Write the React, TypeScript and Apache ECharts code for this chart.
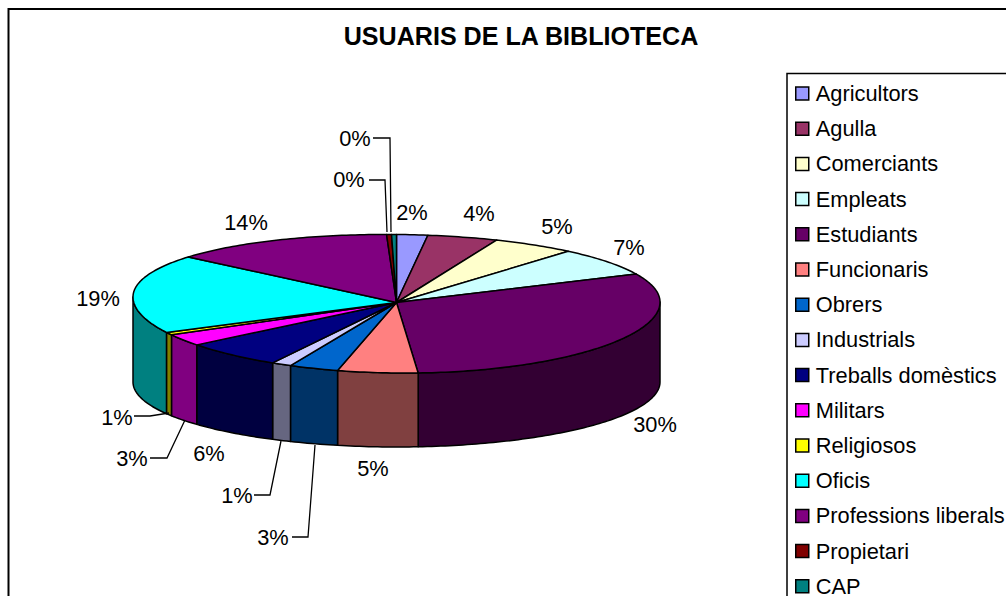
import React, { useEffect, useRef } from "react";
import * as echarts from "echarts";

const titleText = "USUARIS DE LA BIBLIOTECA";
const categories = ["Agricultors", "Agulla", "Comerciants", "Empleats", "Estudiants", "Funcionaris", "Obrers", "Industrials", "Treballs domèstics", "Militars", "Religiosos", "Oficis", "Professions liberals", "Propietari", "CAP"];
const shares = [1.9, 4.3, 5.1, 6.9, 30.49, 4.9, 3.0, 1.2, 5.9, 2.6, 0.6, 18.61, 13.9, 0.3, 0.3];
const topColors = ["#9999FF", "#993366", "#FFFFCC", "#CCFFFF", "#660066", "#FF8080", "#0066CC", "#CCCCFF", "#000080", "#FF00FF", "#FFFF00", "#00FFFF", "#800080", "#800000", "#008080"];
const wallColors = ["#4D4D80", "#4D1A33", "#808066", "#668080", "#330033", "#804040", "#003366", "#666680", "#000040", "#800080", "#808000", "#008080", "#400040", "#400000", "#004040"];

// Hand placement of the percentage labels (centre x, centre y).
const labelCentres: number[][] = [[412, 212], [479, 213], [557, 226], [629, 247], [655, 424], [373, 468], [273, 537], [237, 495], [209, 453], [132, 458], [117, 417], [98, 298], [246, 222], [349, 179], [355, 138]];
// Leader lines, keyed by category index.
const leaders: Record<number, number[][]> = {
  6: [[292, 537], [308, 537], [315, 445]],
  7: [[254, 495], [270, 495], [281, 441]],
  9: [[150, 458], [167, 458], [185, 420]],
  10: [[134, 416], [150, 416], [169, 413]],
  13: [[369, 180], [385, 180], [387, 232]],
  14: [[373, 138], [390, 138], [391, 232]],
};

const FONT = "'Liberation Sans', Arial, sans-serif";
const CX = 396.5, CY = 302.5, RX = 263.5, RY_BACK = 68, RY_FRONT = 70.5;
const BOTTOM_CY = 382, BOTTOM_RY = 65, TILT = 0.0095, SAG = 3;

const topPoint = (t: number) => {
  const x = CX + RX * Math.sin(t);
  const s = -Math.cos(t);
  return [x, CY + s * (s > 0 ? RY_FRONT : RY_BACK) + TILT * (x - CX) - SAG * (1 - s * s)];
};
const bottomPoint = (t: number) => [CX + RX * Math.sin(t), BOTTOM_CY - Math.cos(t) * BOTTOM_RY];

const sample = (a: number, b: number, f: (t: number) => number[]) => {
  const n = Math.max(2, Math.ceil((b - a) / (Math.PI / 180)));
  const out: number[][] = [];
  for (let i = 0; i <= n; i++) out.push(f(a + ((b - a) * i) / n));
  return out;
};

const total = shares.reduce((a, b) => a + b, 0);

function buildSeries() {
  let acc = 0;
  return categories.map((name, i) => {
    const start = (acc / total) * Math.PI * 2;
    acc += shares[i];
    const end = (acc / total) * Math.PI * 2;
    const value = shares[i];
    return {
      type: "custom",
      name,
      coordinateSystem: "none",
      silent: true,
      itemStyle: { color: topColors[i] },
      data: [value],
      renderItem: () => {
        const stroke = { stroke: "#000", lineWidth: 1.5, lineJoin: "round" };
        const children: any[] = [];
        const wa = Math.max(start, Math.PI / 2);
        const wb = Math.min(end, (Math.PI * 3) / 2);
        if (wb > wa) {
          children.push({
            type: "polygon",
            z2: 1,
            shape: { points: [...sample(wa, wb, topPoint), ...sample(wa, wb, bottomPoint).reverse()] },
            style: { fill: wallColors[i], ...stroke },
          });
        }
        children.push({
          type: "polygon",
          z2: 2,
          shape: { points: [[CX, CY], ...sample(start, end, topPoint)] },
          style: { fill: topColors[i], ...stroke },
        });
        if (leaders[i]) {
          children.push({
            type: "polyline",
            z2: 3,
            shape: { points: leaders[i] },
            style: { fill: "none", stroke: "#000", lineWidth: 1.3 },
          });
        }
        children.push({
          type: "text",
          z2: 4,
          x: labelCentres[i][0],
          y: labelCentres[i][1],
          style: {
            text: `${Math.round((value / total) * 100)}%`,
            fill: "#000",
            font: `21.8px ${FONT}`,
            align: "center",
            verticalAlign: "middle",
          },
        });
        return { type: "group", children };
      },
    };
  });
}

export default function App() {
  const ref = useRef<HTMLDivElement>(null);
  useEffect(() => {
    document.body.style.margin = "0";
    document.body.style.overflow = "hidden";
    const chart = echarts.init(ref.current!, undefined, { renderer: "svg" });
    chart.setOption({
      animation: false,
      backgroundColor: "#fff",
      title: {
        text: titleText,
        left: 521,
        top: 23,
        padding: 0,
        textAlign: "center",
        textStyle: { fontFamily: FONT, fontSize: 25.1, fontWeight: "bold", color: "#000" },
      },
      legend: {
        orient: "vertical",
        left: 795,
        top: 82,
        height: 560,
        padding: 0,
        itemWidth: 13,
        itemHeight: 13,
        itemGap: 12.2,
        selectedMode: false,
        icon: "rect",
        align: "left",
        textStyle: { fontFamily: FONT, fontSize: 21.8, color: "#000", lineHeight: 23, padding: [0, 0, 0, 2] },
        itemStyle: { borderColor: "#000", borderWidth: 1.5 },
        data: categories.map((name, i) => ({ name, itemStyle: { color: topColors[i], borderColor: "#000", borderWidth: 1.5 } })),
      },
      graphic: [
        { type: "rect", z: -1, shape: { x: 8.5, y: 9, width: 1200, height: 800 }, style: { fill: "none", stroke: "#000", lineWidth: 2 } },
        { type: "rect", z: -1, shape: { x: 787, y: 73.5, width: 400, height: 700 }, style: { fill: "none", stroke: "#000", lineWidth: 1.5 } },
      ],
      series: buildSeries(),
    });
    return () => chart.dispose();
  }, []);
  return <div ref={ref} style={{ position: "absolute", left: 0, top: 0, width: 1006, height: 596, overflow: "hidden" }} />;
}
